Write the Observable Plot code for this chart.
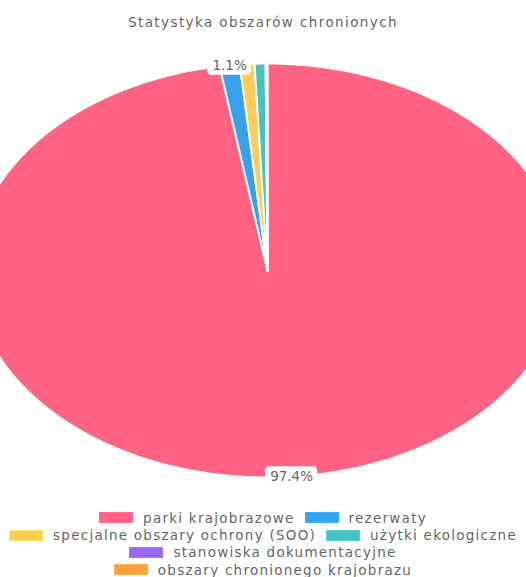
<!DOCTYPE html>
<html>
<head>
<meta charset="utf-8">
<script src="https://cdn.jsdelivr.net/npm/d3@7"></script>
<script src="https://cdn.jsdelivr.net/npm/@observablehq/plot@0.6"></script>
<style>
  html, body { margin: 0; padding: 0; background: #fff; overflow: hidden; width: 526px; height: 577px; }
  body { font-family: "DejaVu Sans", sans-serif; color: #666; }
  #title { height: 40px; line-height: 44px; text-align: center; font-size: 13.5px; letter-spacing: 1.4px; }
  #chart svg { display: block; }
  #legend { margin-top: 9px; width: 526px; display: flex; flex-wrap: wrap; justify-content: center; row-gap: 0; }
  .item { display: flex; align-items: center; height: 17.4px; margin: 0 5px; font-size: 13.5px; letter-spacing: 1.25px; white-space: nowrap; }
  .sw { width: 32px; height: 9px; margin-right: 10px; border: 1px solid; }
</style>
</head>
<body>
<div id="title">Statystyka obszarów chronionych</div>
<div id="chart"></div>
<div id="legend"></div>
<script>
const categories = [
  "parki krajobrazowe",
  "rezerwaty",
  "specjalne obszary ochrony (SOO)",
  "użytki ekologiczne",
  "stanowiska dokumentacyjne",
  "obszary chronionego krajobrazu"
];
const values = [97.4, 1.1, 0.8, 0.6, 0.07, 0.03];
const colors = ["#ff6384", "#36a2eb", "#ffcd56", "#4bc0c0", "#9966ff", "#ff9f40"];
const labelMin = 1; // only slices >= 1% get a label

const pie = d3.pie().sort(null).value(d => d.value);
const arcs = pie(categories.map((name, i) => ({name, value: values[i]})));

// slice outlines in unit coordinates (angle 0 at top, clockwise)
const pts = [];
for (const a of arcs) {
  const name = a.data.name;
  pts.push({name, x: 0, y: 0});
  const n = Math.max(2, Math.ceil((a.endAngle - a.startAngle) / (Math.PI / 360)));
  for (let k = 0; k <= n; k++) {
    const t = a.startAngle + (a.endAngle - a.startAngle) * k / n;
    pts.push({name, x: Math.sin(t), y: Math.cos(t)});
  }
  pts.push({name, x: 0, y: 0});
}

const total = d3.sum(values);
const labels = arcs
  .filter(a => a.data.value / total * 100 >= labelMin)
  .map(a => {
    const m = (a.startAngle + a.endAngle) / 2;
    return {text: (a.data.value / total * 100).toFixed(1) + "%", x: Math.sin(m), y: Math.cos(m)};
  });

const labelMarks = labels.map(l => {
  const hw = l.text.length * 4.2 + 5;
  return Plot.rect([l], {x1: "x", x2: "x", y1: "y", y2: "y",
    insetLeft: -hw, insetRight: -hw, insetTop: -10, insetBottom: -10,
    fill: "white", rx: 4});
});

const plot = Plot.plot({
  width: 526,
  height: 460,
  margin: 0,
  style: {background: "transparent", overflow: "hidden"},
  x: {domain: [-1, 1], range: [-28, 562], axis: null},
  y: {domain: [-1, 1], range: [437, 23], axis: null},
  color: {domain: categories, range: colors},
  marks: [
    Plot.line(pts, {x: "x", y: "y", z: "name", fill: "name", stroke: "white", strokeWidth: 2, strokeLinejoin: "round", curve: "linear"}),
    ...labelMarks,
    Plot.text(labels, {x: "x", y: "y", text: "text", fill: "#666", fontSize: 13.5, fontFamily: "DejaVu Sans", style: "letter-spacing:0.5px"})
  ]
});
document.getElementById("chart").appendChild(plot);

const legend = document.getElementById("legend");
categories.forEach((c, i) => {
  const it = document.createElement("div");
  it.className = "item";
  const sw = document.createElement("span");
  sw.className = "sw";
  sw.style.background = colors[i];
  sw.style.borderColor = d3.color(colors[i]).brighter(0.3);
  it.appendChild(sw);
  const tx = document.createElement("span");
  tx.textContent = c;
  it.appendChild(tx);
  legend.appendChild(it);
});
</script>
</body>
</html>
